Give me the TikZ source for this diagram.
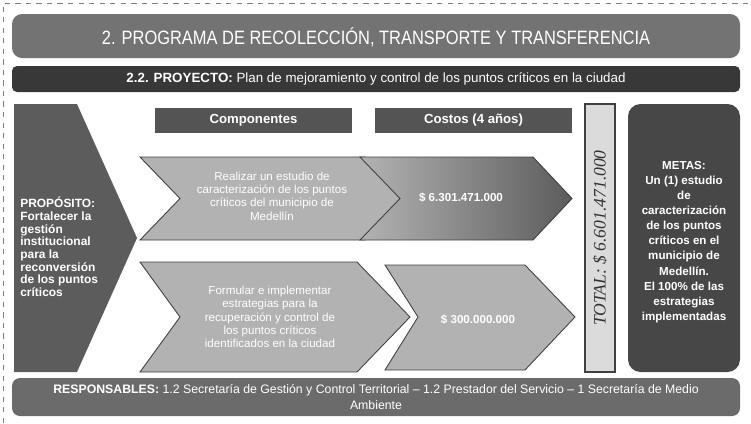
\documentclass[tikz,border=0pt]{standalone}
\usepackage{fontspec}
\setmainfont{Liberation Sans}
\newfontfamily\serifface{Liberation Serif}
\newfontfamily\narrowface[FakeStretch=0.85]{Liberation Sans}
\usepackage{tikz}

\definecolor{bannergray}{gray}{0.45}
\definecolor{bargray}{gray}{0.22}
\definecolor{leftgray}{gray}{0.36}
\definecolor{headgray}{gray}{0.33}
\definecolor{lightrow}{gray}{0.70}
\definecolor{darkrow}{gray}{0.36}
\definecolor{totalgray}{gray}{0.86}
\definecolor{metasgray}{gray}{0.28}
\definecolor{bottomgray}{gray}{0.42}

\begin{document}
\begin{tikzpicture}[scale=0.2]
\tikzstyle{every node}+=[inner sep=0pt]
\tikzstyle{whitetext}=[text=white, align=center]
\tikzstyle{rowedge}=[draw=black!75, line width=0.5pt]
\useasboundingbox (0,0) rectangle (75.1,-42.3);
\draw [gray, dashed, line width=0.3pt] (0.3,-42.3) -- (0.3,-0.3) -- (75.1,-0.3);
% encabezados
\fill [bannergray, rounded corners=2mm] (1.2,-1.4) rectangle (74,-5.8);
\draw (37.6,-3.7) node (programa) [whitetext, font=\narrowface\fontsize{11}{13}\selectfont] {2. PROGRAMA DE RECOLECCIÓN, TRANSPORTE Y TRANSFERENCIA};
\fill [bargray, rounded corners=1mm] (1.2,-6.6) rectangle (74,-9.2);
\draw (37.6,-7.9) node (proyecto) [whitetext, font=\fontsize{7.6}{9}\selectfont] {\textbf{2.2. PROYECTO:} Plan de mejoramiento y control de los puntos críticos en la ciudad};
% proposito
\fill [leftgray] (1.4,-10.4) -- (7.7,-10.4) -- (13.7,-23.8) -- (7.7,-37.2) -- (1.4,-37.2) -- cycle;
\draw (2.0,-24.7) node (proposito) [anchor=west, text=white, align=left, font=\bfseries\fontsize{6.8}{7.2}\selectfont] {PROPÓSITO:\\Fortalecer la\\gestión\\institucional\\para la\\reconversión\\de los puntos\\críticos};
% componentes y costos
\fill [headgray] (15.5,-10.8) rectangle (35.2,-13.3);
\draw (25.35,-12.05) node (componentes) [whitetext, font=\bfseries\fontsize{7.5}{9}\selectfont] {Componentes};
\fill [headgray] (37.5,-10.8) rectangle (57.2,-13.3);
\draw (47.35,-12.05) node (costos) [whitetext, font=\bfseries\fontsize{7.5}{9}\selectfont] {Costos (4 años)};
% fila 1
\filldraw [lightrow, rowedge] (14.0,-15.7) -- (36.5,-15.7) -- (41.0,-19.85) -- (36.5,-24.0) -- (14.0,-24.0) -- (18.0,-19.85) -- cycle;
\shadedraw [left color=lightrow, right color=darkrow, rowedge] (36.0,-15.7) -- (53.3,-15.7) -- (57.2,-19.85) -- (53.3,-24.0) -- (36.0,-24.0) -- (40.0,-19.85) -- cycle;
\draw (27.2,-19.6) node (estudio) [whitetext, font=\fontsize{6.6}{7.6}\selectfont] {Realizar un estudio de\\caracterización de los puntos\\críticos del municipio de\\Medellín};
\draw (46.1,-19.8) node (costouno) [whitetext, font=\bfseries\fontsize{6.6}{8}\selectfont] {\$ 6.301.471.000};
% fila 2
\filldraw [lightrow, rowedge] (14.0,-26.2) -- (35.7,-26.2) -- (41.0,-31.7) -- (35.7,-37.2) -- (14.0,-37.2) -- (18.0,-31.7) -- cycle;
\filldraw [lightrow, rowedge] (38.5,-26.5) -- (52.5,-26.5) -- (57.5,-31.7) -- (52.5,-37.0) -- (38.5,-37.0) -- (41.8,-31.7) -- cycle;
\draw (27.0,-31.7) node (estrategias) [whitetext, font=\fontsize{6.6}{7.6}\selectfont] {Formular e implementar\\estrategias para la\\recuperación y control de\\los puntos críticos\\identificados en la ciudad};
\draw (47.8,-32.0) node (costodos) [whitetext, font=\bfseries\fontsize{6.6}{8}\selectfont] {\$ 300.000.000};
% total
\filldraw [fill=totalgray, draw=black!75, line width=0.6pt] (58.5,-10.4) rectangle (61.5,-37.2);
\draw (60.0,-23.8) node (total) [rotate=90, text=black!80, font=\serifface\itshape\fontsize{10}{12}\selectfont] {TOTAL: \$ 6.601.471.000};
% metas
\fill [metasgray, rounded corners=2.5mm] (62.8,-10.4) rectangle (74,-37.2);
\draw (68.4,-24.2) node (metas) [whitetext, font=\bfseries\fontsize{6.6}{8.6}\selectfont] {METAS:\\Un (1) estudio\\de\\caracterización\\de los puntos\\críticos en el\\municipio de\\Medellín.\\El 100\% de las\\estrategias\\implementadas};
% responsables
\fill [bottomgray, rounded corners=1.6mm] (1.2,-37.8) rectangle (74,-41.6);
\draw (37.6,-39.7) node (responsables) [whitetext, font=\fontsize{7}{8.6}\selectfont] {\textbf{RESPONSABLES:} 1.2 Secretaría de Gestión y Control Territorial -- 1.2 Prestador del Servicio -- 1 Secretaría de Medio\\Ambiente};
\end{tikzpicture}
\end{document}
